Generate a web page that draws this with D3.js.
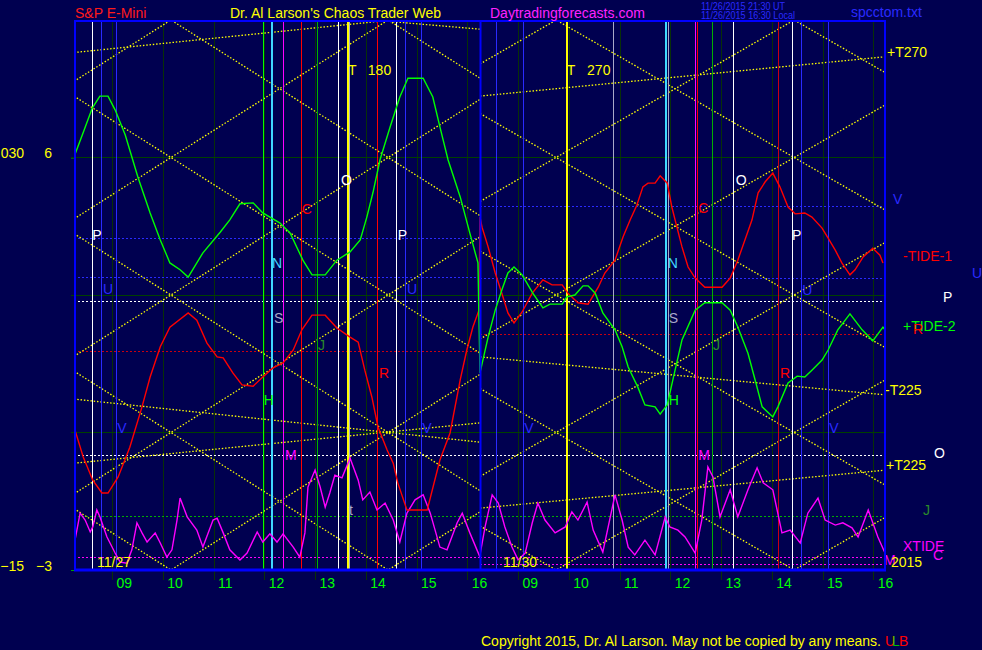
<!DOCTYPE html>
<html><head><meta charset="utf-8">
<script src="https://cdn.jsdelivr.net/npm/d3@7/dist/d3.min.js"></script>
<style>
html,body{margin:0;padding:0;background:#000050;overflow:hidden}
svg{display:block}
text{font-family:"Liberation Sans",Arial,sans-serif;font-size:14px}
</style></head><body>
<svg id="chart" width="982" height="650"></svg>
<script>
// ---------------- DATA ----------------
const SESSION = [8.25, 16.25];          // session hours shown in each panel
const VALUE_RANGE = [-3, 9];            // oscillator units
const HOURS = [9, 10, 11, 12, 13, 14, 15, 16];
const Y_TICKS = [6, -3];
const DATES = ["11/27", "11/30"];

// +TIDE-2 (green)
const greenLeft = [[8.25,6.01],[8.45,6.60],[8.61,7.08],[8.76,7.34],[8.92,7.34],[9.06,7.04],[9.26,6.49],[9.51,5.57],[9.75,4.79],[9.95,4.20],[10.14,3.70],[10.34,3.55],[10.50,3.39],[10.79,3.92],[11.13,4.37],[11.32,4.64],[11.52,4.99],[11.78,5.01],[11.97,4.79],[12.31,4.57],[12.51,4.35],[12.76,3.76],[12.94,3.44],[13.20,3.44],[13.43,3.76],[13.69,3.94],[13.89,4.20],[14.02,4.70],[14.14,5.23],[14.28,5.95],[14.48,6.67],[14.67,7.32],[14.83,7.73],[15.13,7.73],[15.32,7.32],[15.46,6.67],[15.62,5.95],[15.86,5.14],[16.05,4.35],[16.21,3.70],[16.23,2.45],[16.25,1.30]];
const greenRight = [[8.25,1.30],[8.41,2.08],[8.55,2.67],[8.68,3.11],[8.80,3.48],[8.92,3.61],[9.08,3.44],[9.29,3.04],[9.49,2.72],[9.63,2.80],[9.87,2.80],[9.96,2.96],[10.12,3.00],[10.28,3.20],[10.38,3.20],[10.52,3.04],[10.67,2.61],[10.91,2.24],[11.05,1.87],[11.17,1.43],[11.36,0.99],[11.50,0.60],[11.70,0.56],[11.80,0.40],[11.94,0.60],[12.05,1.15],[12.23,2.02],[12.49,2.67],[12.68,2.83],[13.02,2.83],[13.18,2.67],[13.33,2.30],[13.53,1.73],[13.67,1.15],[13.81,0.56],[14.02,0.34],[14.12,0.56],[14.32,1.08],[14.50,1.23],[14.65,1.21],[14.79,1.36],[14.99,1.58],[15.11,1.80],[15.30,2.24],[15.54,2.59],[15.78,2.24],[15.99,2.00],[16.19,2.30],[16.23,2.24]];

// -TIDE-1 (red)
const redLeft = [[8.25,1.52],[8.27,0.05],[8.43,-0.53],[8.62,-1.04],[8.80,-1.32],[8.92,-1.32],[9.12,-0.97],[9.35,-0.32],[9.59,0.56],[9.75,1.21],[9.95,1.87],[10.14,2.30],[10.50,2.61],[10.67,2.45],[10.87,1.95],[11.07,1.65],[11.19,1.63],[11.38,1.30],[11.56,1.04],[11.78,1.01],[11.97,1.21],[12.17,1.41],[12.37,1.52],[12.57,1.80],[12.74,2.24],[12.94,2.56],[13.20,2.56],[13.43,2.28],[13.69,2.08],[13.85,1.97],[13.98,1.36],[14.12,0.77],[14.24,0.12],[14.42,-0.38],[14.54,-0.67],[14.63,-1.10],[14.81,-1.69],[15.21,-1.69],[15.46,-0.60],[15.66,-0.01],[15.86,1.15],[15.99,1.80],[16.11,2.30],[16.23,2.67],[16.25,4.70]];
const redRight = [[8.25,4.70],[8.29,4.48],[8.41,4.05],[8.55,3.48],[8.68,3.04],[8.80,2.61],[8.92,2.39],[9.08,2.63],[9.28,3.04],[9.49,3.33],[9.67,3.22],[9.87,3.22],[9.98,3.04],[10.18,2.83],[10.38,2.80],[10.58,3.17],[10.71,3.48],[10.91,3.76],[11.07,4.27],[11.21,4.64],[11.34,4.96],[11.46,5.36],[11.56,5.44],[11.70,5.44],[11.80,5.60],[11.94,5.44],[12.03,4.92],[12.13,4.48],[12.23,4.05],[12.35,3.61],[12.49,3.37],[12.68,3.17],[13.02,3.17],[13.18,3.37],[13.33,3.76],[13.47,4.20],[13.61,4.64],[13.73,5.23],[13.87,5.47],[14.02,5.66],[14.16,5.36],[14.32,4.92],[14.46,4.77],[14.65,4.79],[14.79,4.70],[14.99,4.46],[15.11,4.24],[15.25,3.98],[15.38,3.70],[15.54,3.44],[15.64,3.55],[15.80,3.83],[15.99,4.02],[16.13,3.87],[16.19,3.70]];

// XTIDE (magenta)
const xtideLeft = [[8.27,-2.35],[8.37,-1.76],[8.47,-1.91],[8.57,-2.17],[8.62,-2.06],[8.70,-1.69],[8.76,-1.84],[8.90,-2.28],[9.06,-2.63],[9.16,-2.83],[9.29,-2.85],[9.39,-2.56],[9.49,-1.97],[9.59,-2.19],[9.69,-2.39],[9.85,-2.19],[9.95,-2.41],[10.08,-2.72],[10.18,-2.56],[10.28,-1.91],[10.34,-1.43],[10.48,-1.84],[10.67,-2.13],[10.79,-2.50],[10.99,-1.91],[11.07,-1.87],[11.19,-2.19],[11.32,-2.56],[11.52,-2.78],[11.66,-2.63],[11.86,-2.17],[11.97,-2.39],[12.11,-2.21],[12.25,-2.39],[12.37,-2.21],[12.57,-2.50],[12.70,-2.72],[12.80,-2.19],[12.86,-1.19],[13.00,-0.82],[13.10,-1.19],[13.20,-1.63],[13.29,-1.32],[13.39,-0.93],[13.53,-0.99],[13.69,-0.56],[13.85,-1.04],[13.94,-1.47],[14.08,-1.30],[14.22,-1.69],[14.38,-1.54],[14.54,-1.91],[14.67,-2.39],[14.81,-1.76],[14.97,-1.47],[15.13,-1.36],[15.27,-1.76],[15.46,-2.50],[15.60,-2.56],[15.80,-1.97],[15.90,-1.76],[16.05,-2.19],[16.25,-2.72]];
const xtideRight = [[8.25,-2.67],[8.35,-2.06],[8.49,-1.36],[8.61,-1.54],[8.74,-2.06],[8.88,-2.50],[9.00,-2.78],[9.14,-2.63],[9.28,-1.97],[9.39,-1.54],[9.53,-1.91],[9.73,-2.19],[9.93,-2.06],[10.06,-1.73],[10.18,-1.91],[10.36,-1.52],[10.48,-2.13],[10.67,-2.61],[10.91,-1.36],[11.05,-1.91],[11.17,-2.50],[11.30,-2.67],[11.50,-2.35],[11.70,-2.67],[11.90,-1.84],[11.99,-2.06],[12.15,-2.13],[12.29,-2.28],[12.49,-2.63],[12.62,-1.91],[12.74,-0.75],[12.84,-0.97],[12.98,-1.84],[13.18,-1.25],[13.33,-1.84],[13.53,-1.25],[13.71,-0.77],[13.83,-1.10],[14.02,-1.25],[14.20,-2.19],[14.36,-2.13],[14.56,-2.41],[14.71,-1.76],[14.91,-1.43],[15.05,-1.91],[15.25,-2.02],[15.40,-1.97],[15.58,-2.08],[15.70,-2.28],[15.90,-1.69],[16.09,-2.28],[16.23,-2.63]];

// vertical event lines [hour, kind]
const eventsLeft = [[8.61,"W"],[8.80,"B"],[9.09,"B"],[11.98,"L"],[12.15,"C"],[12.37,"M"],[12.74,"R"],[13.04,"G"],[13.47,"W"],[13.64,"Y"],[13.68,"S"],[14.24,"R"],[14.60,"W"],[14.79,"B"],[15.10,"B"]];
const eventsRight = [[8.58,"B"],[9.10,"B"],[9.96,"Y"],[10.89,"S"],[11.92,"C"],[11.96,"S"],[12.49,"M"],[12.53,"R"],[12.84,"G"],[13.25,"W"],[14.14,"D"],[14.40,"W"],[14.59,"B"],[15.11,"B"]];

// horizontal levels
const gridLevels = [6, 3, 0];
const dottedLeft = [[4.24,"B"],[3.39,"B"],[2.85,"W"],[1.76,"D"],[-0.51,"W"],[-1.84,"G"],[-2.72,"M"]];
const dottedRight = [[4.94,"B"],[3.37,"B"],[2.85,"W"],[2.13,"D"],[-0.51,"W"],[-1.84,"G"],[-2.72,"M"],[-2.89,"M"]];

// time/price square lattice: vertex hour, period (hours), step (units)
const latticeLeft = [10.16, 4.28, 3];
const latticeRight = [9.75, 4.69, 3];

// tide trend lines [[h0,v0],[h1,v1]]
const trendLeft = [[[8.25,8.29],[14.34,8.98]],[[14.34,8.98],[16.25,8.80]],[[8.25,0.73],[16.25,-0.21]],[[8.25,-0.67],[16.25,0.21]]];
const trendRight = [[[8.25,7.34],[16.25,8.20]],[[8.25,1.65],[16.25,0.82]],[[8.25,-1.65],[16.25,-0.82]]];

// labels in plot [text, hour, value, kind]
const labelsLeft = [["T",13.65,7.91,"Y"],["180",14.04,7.91,"Y"],["P",8.61,4.31,"W"],["P",14.63,4.31,"W"],["U",8.82,3.13,"B"],["U",14.81,3.13,"B"],["N",12.15,3.70,"C"],["S",12.19,2.50,"S"],["O",13.51,5.51,"W"],["C",12.74,4.88,"R"],["J",13.06,1.91,"J"],["R",14.26,1.30,"R"],["H",11.99,0.71,"L"],["M",12.41,-0.49,"M"],["V",9.10,0.10,"B"],["V",15.11,0.10,"B"],["t",13.67,-1.69,"S"]];
const labelsRight = [["T",9.96,7.91,"Y"],["270",10.36,7.91,"Y"],["O",13.29,5.51,"W"],["C",12.55,4.90,"R"],["N",11.95,3.70,"C"],["P",14.40,4.31,"W"],["U",14.60,3.11,"B"],["S",11.97,2.50,"S"],["J",12.84,1.91,"J"],["R",14.16,1.30,"R"],["H",11.97,0.71,"L"],["V",9.12,0.10,"B"],["V",15.13,0.10,"B"],["M",12.55,-0.49,"M"]];
// legend labels right of the chart [text, value, kind]
const sideLabels = [["+T270",8.30,"Y"],["V",5.09,"B"],["-TIDE-1",3.85,"R"],["U",3.48,"B"],["P",2.96,"W"],["+TIDE-2",2.32,"L"],["R",2.26,"R"],["-T225",0.93,"Y"],["O",-0.45,"W"],["+T225",-0.71,"Y"],["J",-1.69,"J"],["XTIDE",-2.48,"M"],["C",-2.67,"M"],["M",-2.78,"M"],["2015",-2.83,"Y"]];
const sideOffsets = [1,7,17,86,57,17,27,-1,48,0,37,17,47,-2,5];

// ---------------- STYLE ----------------
const COL = {W:"#ffffff",B:"#2a2aff",L:"#00ff00",C:"#40d8ff",M:"#ff00ff",R:"#ff0000",G:"#00b000",Y:"#ffff00",S:"#a8a8c8",D:"#c80010",J:"#2a8a2a"};
const BG = "#000050", FRAME = "#0000ff", GRID = "#004000", HOURLINE = "#083008";

const svg = d3.select("#chart");
svg.append("rect").attr("width",982).attr("height",650).attr("fill",BG);

const y = d3.scaleLinear().domain(VALUE_RANGE).range([570, 20]);
const panels = [
  {date: DATES[0], x: d3.scaleLinear().domain(SESSION).range([74, 480]), green: greenLeft, red: redLeft, xtide: xtideLeft, events: eventsLeft, dotted: dottedLeft, lattice: latticeLeft, trend: trendLeft, labels: labelsLeft},
  {date: DATES[1], x: d3.scaleLinear().domain(SESSION).range([480, 886]), green: greenRight, red: redRight, xtide: xtideRight, events: eventsRight, dotted: dottedRight, lattice: latticeRight, trend: trendRight, labels: labelsRight}
];
const defs = svg.append("defs");

// hour axes (dark green hour lines + labels)
panels.forEach((p, i) => {
  const ax = d3.axisBottom(p.x).tickValues(HOURS).tickFormat(d3.format("02d")).tickSize(10);
  const g = svg.append("g").attr("transform", `translate(0,${y(VALUE_RANGE[0])})`).call(ax)
    .attr("font-family", null).attr("font-size", null);
  g.select(".domain").remove();
  g.selectAll(".tick line").attr("y1", y(VALUE_RANGE[1]) - y(VALUE_RANGE[0])).attr("y2", 10)
    .attr("stroke", HOURLINE).attr("shape-rendering", "crispEdges");
  g.selectAll(".tick text").attr("fill", "#00ff00").attr("text-anchor", "start").attr("x", 4).attr("y", 13).attr("dy", "0.36em");
  defs.append("clipPath").attr("id", "clip" + i).append("rect")
    .attr("x", p.x.range()[0]).attr("y", y(VALUE_RANGE[1])).attr("width", p.x.range()[1] - p.x.range()[0]).attr("height", y(VALUE_RANGE[0]) - y(VALUE_RANGE[1]));
});

// left value axes
const axA = d3.axisLeft(y).tickValues(Y_TICKS).tickSize(3).tickPadding(19).tickFormat(d3.format("d"));
const gA = svg.append("g").attr("transform", "translate(74,0)").call(axA).attr("font-family", null).attr("font-size", null);
gA.select(".domain").remove();
gA.selectAll(".tick line").attr("stroke", "#00a000");
gA.selectAll(".tick text").attr("fill", "#ffff00").attr("y", -5).attr("dy", "0.36em");
const axB = d3.axisLeft(y).tickValues(Y_TICKS).tickSize(0).tickPadding(50).tickFormat(d => d3.format("03d")(d * 5));
const gB = svg.append("g").attr("transform", "translate(74,0)").call(axB).attr("font-family", null).attr("font-size", null);
gB.select(".domain").remove();
gB.selectAll(".tick text").attr("fill", "#ffff00").attr("y", -5).attr("dy", "0.36em");

// grid levels across the whole chart
const xAll = [panels[0].x.range()[0], panels[1].x.range()[1]];
svg.append("g").selectAll("line").data(gridLevels).join("line")
  .attr("x1", xAll[0] - 3).attr("x2", xAll[1]).attr("y1", d => y(d)).attr("y2", d => y(d))
  .attr("stroke", GRID).attr("stroke-width", 1).attr("shape-rendering", "crispEdges");

panels.forEach((p, i) => {
  const g = svg.append("g").attr("clip-path", `url(#clip${i})`);
  const line = d3.line().x(d => p.x(d[0])).y(d => y(d[1]));
  const [x0, x1] = p.x.range();

  // dotted horizontal levels
  g.selectAll("line.lvl").data(p.dotted).join("line").attr("class", "lvl")
    .attr("x1", x0).attr("x2", x1).attr("y1", d => y(d[0])).attr("y2", d => y(d[0]))
    .attr("stroke", d => COL[d[1]]).attr("stroke-width", 1).attr("stroke-dasharray", "2,2")
    .attr("shape-rendering", "crispEdges");

  // square lattice of yellow dotted lines
  const [tv, per, step] = p.lattice;
  const latt = [];
  for (let m = -8; m <= 10; m++) {
    for (const s of [1, -1]) {
      latt.push(SESSION.map(t => [t, VALUE_RANGE[1] - step * m + s * step / per * (t - tv)]));
    }
  }
  g.selectAll("path.lat").data(latt).join("path").attr("class", "lat").attr("d", line)
    .attr("fill", "none").attr("stroke", "#ffff00").attr("stroke-width", 1.3).attr("stroke-dasharray", "1.5,1.8");

  // trend lines
  g.selectAll("path.tr").data(p.trend).join("path").attr("class", "tr").attr("d", line)
    .attr("fill", "none").attr("stroke", "#ffff00").attr("stroke-width", 1.3).attr("stroke-dasharray", "1.5,1.8");

  // event verticals
  g.selectAll("line.ev").data(p.events).join("line").attr("class", "ev")
    .attr("x1", d => p.x(d[0])).attr("x2", d => p.x(d[0]))
    .attr("y1", y(VALUE_RANGE[1])).attr("y2", y(VALUE_RANGE[0]))
    .attr("stroke", d => COL[d[1]]).attr("stroke-width", d => (d[1] === "C" || d[1] === "Y") ? 2 : 1)
    .attr("shape-rendering", "crispEdges");

  // curves
  [[p.xtide, COL.M], [p.red, COL.R], [p.green, COL.L]].forEach(([data, c]) => {
    g.append("path").datum(data).attr("d", line).attr("fill", "none").attr("stroke", c).attr("stroke-width", 1.4);
  });

  // labels
  svg.append("g").selectAll("text").data(p.labels).join("text")
    .attr("x", d => p.x(d[1])).attr("y", d => y(d[2])).attr("dy", "0.36em")
    .attr("fill", d => COL[d[3]]).text(d => d[0]);
  svg.append("text").attr("x", p.x(SESSION[0]) + 23).attr("y", y(-2.83)).attr("dy", "0.36em")
    .attr("fill", "#ffff00").text(p.date);
});

// side legend
const xr = panels[1].x.range()[1];
svg.append("g").selectAll("text").data(sideLabels).join("text")
  .attr("x", (d, i) => xr + sideOffsets[i]).attr("y", d => y(d[1])).attr("dy", "0.36em")
  .attr("fill", d => COL[d[2]]).text(d => d[0]);

// frame
const fr = svg.append("g").attr("stroke", FRAME);
fr.append("line").attr("x1", 75).attr("x2", 75).attr("y1", 20).attr("y2", 571).attr("stroke-width", 2);
fr.append("line").attr("x1", 885).attr("x2", 885).attr("y1", 20).attr("y2", 571).attr("stroke-width", 2);
fr.append("line").attr("x1", 74).attr("x2", 886).attr("y1", 21).attr("y2", 21).attr("stroke-width", 2);
fr.append("line").attr("x1", 74).attr("x2", 886).attr("y1", 570).attr("y2", 570).attr("stroke-width", 3);
fr.append("line").attr("x1", 480.5).attr("x2", 480.5).attr("y1", 20).attr("y2", 571).attr("stroke-width", 2);

// titles
const T = (x, yy, txt, c, extra) => {
  const t = svg.append("text").attr("x", x).attr("y", yy).attr("dy", "0.36em").attr("fill", c).text(txt);
  if (extra) extra(t);
  return t;
};
T(75, 13, "S&P E-Mini", "#ff1a1a");
T(230, 13, "Dr. Al Larson's Chaos Trader Web", "#ffff00");
T(490, 13, "Daytradingforecasts.com", "#ff22ff");
T(701, 6, "11/26/2015 21:30 UT", "#2a2aff", t => t.style("font-size", "10px").attr("textLength", 84).attr("lengthAdjust", "spacingAndGlyphs"));
T(701, 15, "11/26/2015 16:30 Local", "#2a2aff", t => t.style("font-size", "10px").attr("textLength", 94).attr("lengthAdjust", "spacingAndGlyphs"));
T(851, 12, "spcctom.txt", "#2a2aff");
T(481, 641, "Copyright 2015, Dr. Al Larson. May not be copied by any means.", "#ffff00", t => t.attr("textLength", 400).attr("lengthAdjust", "spacingAndGlyphs"));
T(885, 641, "U", "#ff0000");
T(892, 641, "L", "#00c000");
T(899, 641, "B", "#ff0000");
</script></body></html>
